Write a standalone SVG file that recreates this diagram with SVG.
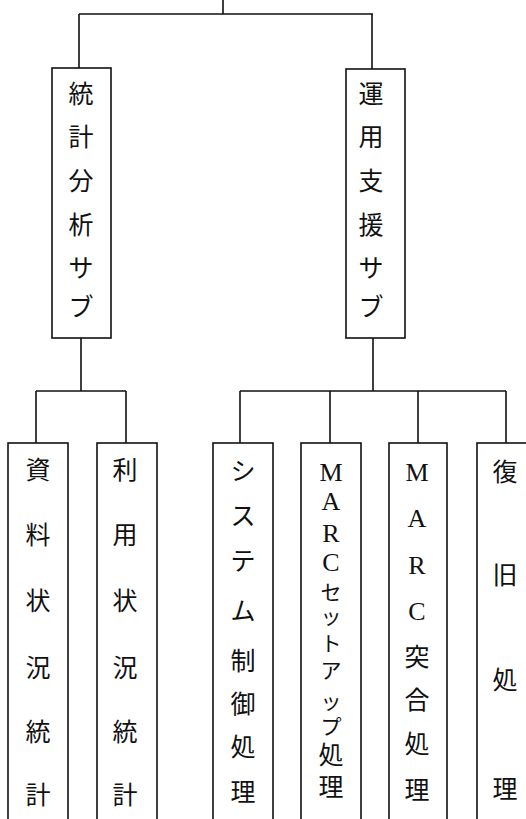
<svg xmlns="http://www.w3.org/2000/svg" width="526" height="819" viewBox="0 0 526 819">
<style>
.box{fill:#fff;stroke:#111;stroke-width:1.6}
.ln{fill:none;stroke:#111;stroke-width:1.6}
text{font-family:"Liberation Serif","Noto Sans CJK JP",serif;font-size:25px;fill:#111;text-anchor:middle;dominant-baseline:central}
.lat{font-size:26px}
.sm{font-size:21px}
</style>
<rect width="526" height="819" fill="#fff"/>
<g id="connectors">
<path class="ln" d="M223,0 V14 M79,14 H373 M79,14 V68 M372,14 V69"/>
<path class="ln" d="M81,338 V391 M36,391 H126 M36,391 V443 M126,391 V443"/>
<path class="ln" d="M373,338 V391 M240,391 H506 M240,391 V443 M330,391 V443 M418,391 V443 M506,391 V443"/>
</g>
<g id="n-toukei">
<rect class="box" x="52" y="68" width="59" height="270"/>
<text x="81" y="94">統</text><text x="81" y="137">計</text><text x="81" y="181">分</text><text x="81" y="225">析</text><text x="81" y="268">サ</text><text x="81" y="307">ブ</text>
</g>
<g id="n-unyou">
<rect class="box" x="346" y="69" width="59" height="269"/>
<text x="371" y="94">運</text><text x="371" y="137">用</text><text x="371" y="181">支</text><text x="371" y="225">援</text><text x="371" y="268">サ</text><text x="371" y="307">ブ</text>
</g>
<g id="n-shiryou">
<rect class="box" x="8" y="443" width="60" height="380"/>
<text x="38" y="470">資</text><text x="38" y="535">料</text><text x="38" y="601">状</text><text x="38" y="668">況</text><text x="38" y="732">統</text><text x="38" y="795">計</text>
</g>
<g id="n-riyou">
<rect class="box" x="97" y="443" width="60" height="380"/>
<text x="125" y="470">利</text><text x="125" y="535">用</text><text x="125" y="601">状</text><text x="125" y="668">況</text><text x="125" y="732">統</text><text x="125" y="795">計</text>
</g>
<g id="n-system">
<rect class="box" x="213" y="443" width="60" height="380"/>
<text x="243" y="471">シ</text><text x="243" y="516">ス</text><text x="243" y="561">テ</text><text x="243" y="611">ム</text><text x="243" y="661">制</text><text x="243" y="704">御</text><text x="243" y="747">処</text><text x="243" y="792">理</text>
</g>
<g id="n-setup">
<rect class="box" x="301" y="443" width="60" height="380"/>
<text class="lat" x="331" y="472">M</text><text class="lat" x="331" y="501">A</text><text class="lat" x="331" y="533">R</text><text class="lat" x="331" y="562">C</text><text class="sm" x="331" y="593">セ</text><text class="sm" x="331" y="617">ッ</text><text class="sm" x="331" y="644">ト</text><text class="sm" x="331" y="671">ア</text><text class="sm" x="331" y="702">ッ</text><text class="sm" x="331" y="727">プ</text><text x="331" y="755">処</text><text x="331" y="787">理</text>
</g>
<g id="n-tokugou">
<rect class="box" x="389" y="443" width="58" height="380"/>
<text class="lat" x="417" y="472">M</text><text class="lat" x="417" y="518">A</text><text class="lat" x="417" y="565">R</text><text class="lat" x="417" y="611">C</text><text x="417" y="657">突</text><text x="417" y="700">合</text><text x="417" y="744">処</text><text x="417" y="790">理</text>
</g>
<g id="n-fukkyu">
<rect class="box" x="477" y="443" width="60" height="380"/>
<text x="505" y="472">復</text><text x="505" y="575">旧</text><text x="505" y="680">処</text><text x="505" y="789">理</text>
</g>
</svg>
